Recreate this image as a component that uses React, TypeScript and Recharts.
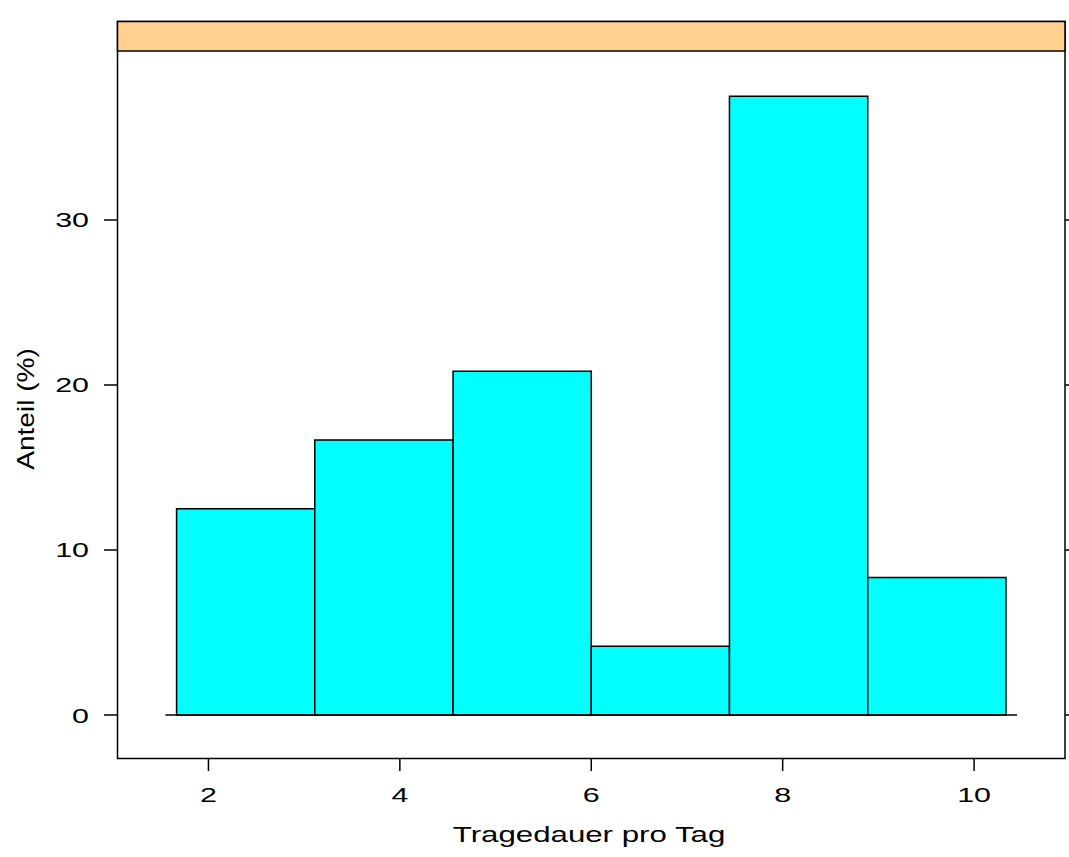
import React from 'react';
import {
  ComposedChart,
  XAxis,
  YAxis,
  ReferenceArea,
  ReferenceLine,
  Customized,
  Label,
} from 'recharts';

// histogram bins (Tragedauer pro Tag) and percentages
const BIN_START = [1.667, 3.111, 4.556, 6.0, 7.444, 8.889];
const BIN_END = [3.111, 4.556, 6.0, 7.444, 8.889, 10.333];
const PERCENT = [12.5, 16.67, 20.83, 4.17, 37.5, 8.33];

const X_TICKS = [2, 4, 6, 8, 10];
const Y_TICKS = [0, 10, 20, 30];
const X_DOMAIN = [1.055, 10.95];
const Y_DOMAIN = [-2.606, 42.06];
const BASELINE_X = [1.551, 10.449];

const X_TITLE = 'Tragedauer pro Tag';
const Y_TITLE = 'Anteil (%)';

const FONT = '"Liberation Sans", Arial, sans-serif';
const W = 1069;
const H = 857;

// lattice text is drawn wide, so stretch it horizontally
function XTick(props: any): React.ReactElement {
  const { x, y, payload } = props;
  return (
    <g transform={`translate(${x},${y}) scale(1.45,1)`}>
      <text textAnchor="middle" y={31} fill="#000" fontSize={21} fontFamily={FONT}>
        {payload.value}
      </text>
    </g>
  );
}

function YTick(props: any): React.ReactElement {
  const { x, y, payload } = props;
  return (
    <g transform={`translate(${x - 15},${y}) scale(1.45,1)`}>
      <text textAnchor="end" y={7.5} fill="#000" fontSize={21} fontFamily={FONT}>
        {payload.value}
      </text>
    </g>
  );
}

function Panel(): React.ReactElement {
  return (
    <g>
      <rect x={117.5} y={21.5} width={947.5} height={737} fill="none" stroke="#000" strokeWidth={1.5} />
      <rect x={117.5} y={21.5} width={947.5} height={29.5} fill="#FFD08F" stroke="#000" strokeWidth={1.5} />
    </g>
  );
}

export default function App(): React.ReactElement {
  return (
    <div style={{ position: 'absolute', left: 0, top: 0, width: W, height: H, background: '#fff' }}>
      <ComposedChart
        width={W}
        height={H}
        data={[]}
        margin={{ top: 0, right: 0, bottom: 59, left: 58 }}
      >
        <XAxis
          type="number"
          dataKey="x"
          domain={X_DOMAIN}
          ticks={X_TICKS}
          allowDataOverflow
          axisLine={false}
          tickSize={13}
          tickMargin={0}
          height={40}
          tickLine={{ stroke: '#000', strokeWidth: 1.5 }}
          tick={<XTick />}
        >
          <Label
            content={() => (
              <g transform="translate(589,842) scale(1.42,1)">
                <text textAnchor="middle" fill="#000" fontSize={22} fontFamily={FONT}>
                  {X_TITLE}
                </text>
              </g>
            )}
          />
        </XAxis>
        <XAxis
          xAxisId="top"
          orientation="top"
          type="number"
          domain={X_DOMAIN}
          ticks={X_TICKS}
          allowDataOverflow
          axisLine={false}
          tickSize={13}
          height={21}
          tickLine={{ stroke: '#000', strokeWidth: 1.5 }}
          tickFormatter={() => ''}
        />
        <YAxis
          type="number"
          domain={Y_DOMAIN}
          ticks={Y_TICKS}
          allowDataOverflow
          axisLine={false}
          tickSize={14}
          tickMargin={0}
          width={60}
          tickLine={{ stroke: '#000', strokeWidth: 1.5 }}
          tick={<YTick />}
        >
          <Label
            content={() => (
              <g transform="translate(34,409) rotate(-90) scale(1.22,1)">
                <text textAnchor="middle" fill="#000" fontSize={23} fontFamily={FONT}>
                  {Y_TITLE}
                </text>
              </g>
            )}
          />
        </YAxis>
        <YAxis
          yAxisId="right"
          orientation="right"
          type="number"
          domain={Y_DOMAIN}
          ticks={Y_TICKS}
          allowDataOverflow
          axisLine={false}
          tickSize={8}
          width={4}
          tickLine={{ stroke: '#000', strokeWidth: 1.5 }}
          tickFormatter={() => ''}
        />
        {PERCENT.map((p, i) => (
          <ReferenceArea
            key={i}
            x1={BIN_START[i]}
            x2={BIN_END[i]}
            y1={0}
            y2={p}
            fill="#00FFFF"
            fillOpacity={1}
            stroke="#000"
            strokeWidth={1.5}
            ifOverflow="visible"
          />
        ))}
        <ReferenceLine
          segment={[
            { x: BASELINE_X[0], y: 0 },
            { x: BASELINE_X[1], y: 0 },
          ]}
          stroke="#000"
          strokeWidth={1.5}
          ifOverflow="visible"
        />
        <Customized component={<Panel />} />
      </ComposedChart>
    </div>
  );
}
